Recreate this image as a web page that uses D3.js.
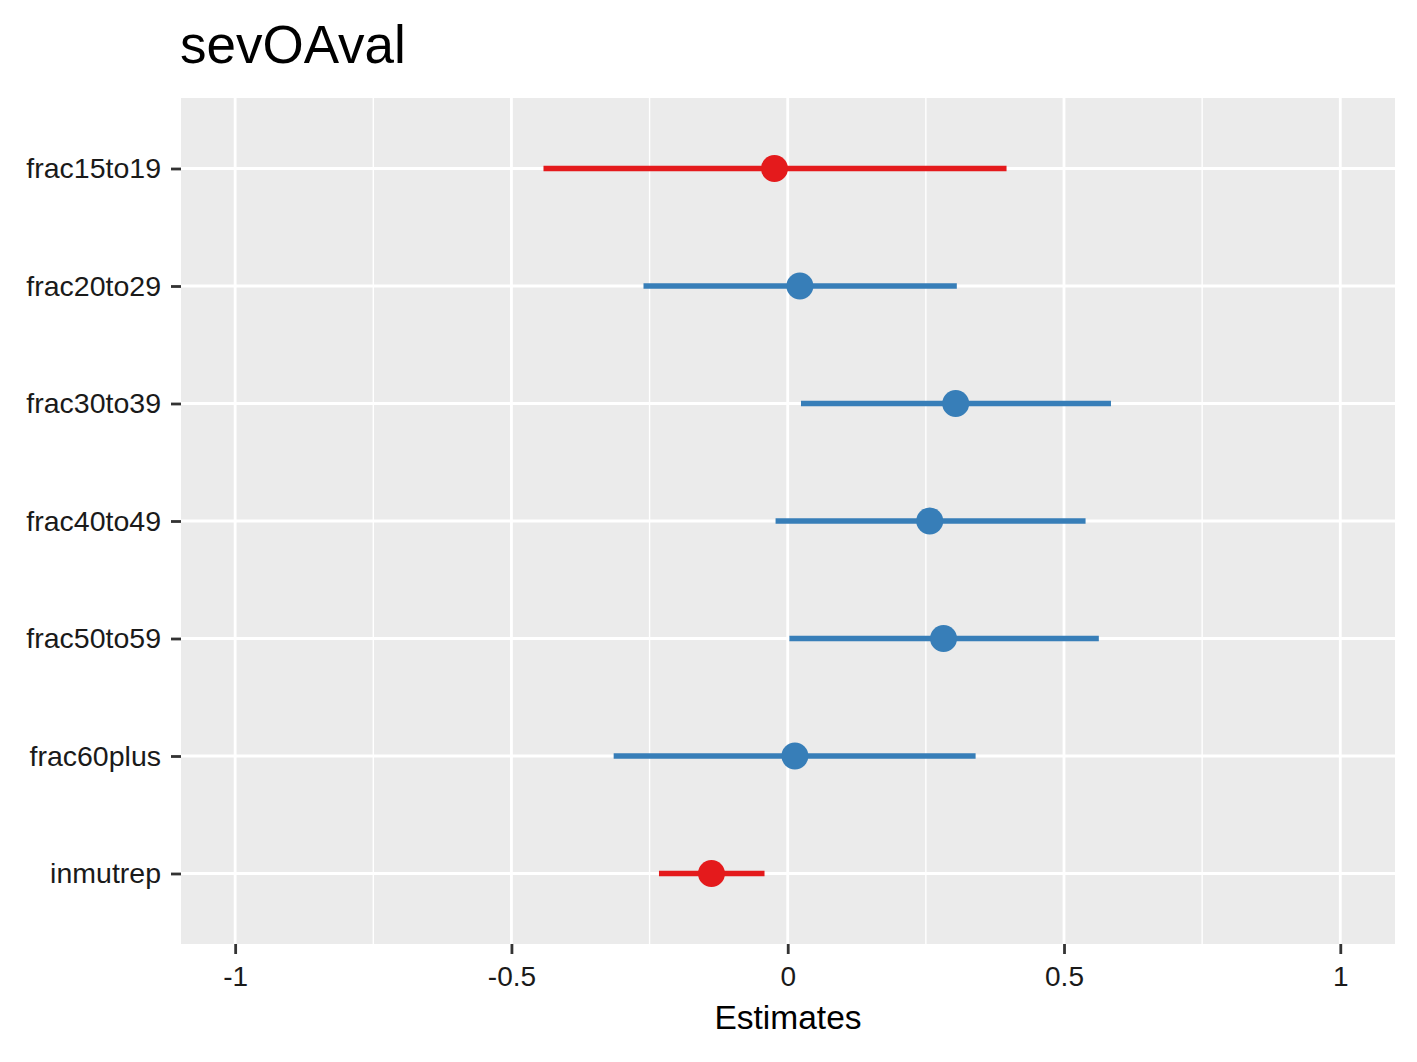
<!DOCTYPE html>
<html>
<head>
<meta charset="utf-8">
<script src="https://cdn.jsdelivr.net/npm/d3@7"></script>
<style>
  body { margin: 0; background: #fff; }
  text { font-family: "Liberation Sans", Arial, sans-serif; }
</style>
</head>
<body>
<div id="chart"></div>
<script>
// terms, top to bottom
var terms = ["frac15to19", "frac20to29", "frac30to39", "frac40to49", "frac50to59", "frac60plus", "inmutrep"];
var estimates = [-0.024, 0.022, 0.304, 0.257, 0.282, 0.013, -0.138];
var ciLow  = [-0.442, -0.261, 0.024, -0.022, 0.003, -0.315, -0.233];
var ciHigh = [0.396, 0.306, 0.585, 0.539, 0.563, 0.340, -0.042];
var xTicks = [-1, -0.5, 0, 0.5, 1];
var xTickLabels = ["-1", "-0.5", "0", "0.5", "1"];
var xMinor = [-0.75, -0.25, 0.25, 0.75];

var width = 1417, height = 1062;
var margin = {top: 98, right: 22, bottom: 118, left: 181};
var w = width - margin.left - margin.right;
var h = height - margin.top - margin.bottom;

var svg = d3.select('#chart').append('svg')
    .attr('width', width)
    .attr('height', height);

svg.append('text')
    .attr('x', 180)
    .attr('y', 63)
    .attr('font-size', 53)
    .attr('fill', '#000')
    .text('sevOAval');

var g = svg.append('g')
    .attr('transform', 'translate(' + margin.left + ',' + margin.top + ')');

var x = d3.scaleLinear().domain([-1.098, 1.099]).range([0, w]);
var y = d3.scalePoint().domain(terms).range([0, h]).padding(0.6);

// panel
g.append('rect')
    .attr('width', w).attr('height', h)
    .attr('fill', '#ebebeb');

// minor grid
g.selectAll('.minor').data(xMinor).enter().append('line')
    .attr('x1', d => x(d)).attr('x2', d => x(d))
    .attr('y1', 0).attr('y2', h)
    .attr('stroke', '#fff').attr('stroke-width', 1.4);

// major grid
g.selectAll('.majx').data(xTicks).enter().append('line')
    .attr('x1', d => x(d)).attr('x2', d => x(d))
    .attr('y1', 0).attr('y2', h)
    .attr('stroke', '#fff').attr('stroke-width', 2.8);
g.selectAll('.majy').data(terms).enter().append('line')
    .attr('x1', 0).attr('x2', w)
    .attr('y1', d => y(d)).attr('y2', d => y(d))
    .attr('stroke', '#fff').attr('stroke-width', 2.8);

var data = terms.map((t, i) => ({term: t, est: estimates[i], lo: ciLow[i], hi: ciHigh[i]}));
function col(d) { return d.est < 0 ? '#e41a1c' : '#377eb8'; }

// error bars
g.selectAll('.ci').data(data).enter().append('line')
    .attr('x1', d => x(d.lo)).attr('x2', d => x(d.hi))
    .attr('y1', d => y(d.term)).attr('y2', d => y(d.term))
    .attr('stroke', col).attr('stroke-width', 5.5);

// points
g.selectAll('.pt').data(data).enter().append('circle')
    .attr('cx', d => x(d.est)).attr('cy', d => y(d.term))
    .attr('r', 13.5)
    .attr('fill', col);

// x axis
var xAxis = g.append('g')
    .attr('transform', 'translate(0,' + h + ')')
    .call(d3.axisBottom(x).tickValues(xTicks).tickFormat((d, i) => xTickLabels[i]).tickSize(10).tickPadding(12));
xAxis.select('.domain').remove();
xAxis.selectAll('line').attr('stroke', '#333').attr('stroke-width', 2.8);
xAxis.selectAll('text').attr('font-size', 28).attr('fill', '#1a1a1a').attr('font-family', '"Liberation Sans", Arial, sans-serif');

// y axis
var yAxis = g.append('g')
    .call(d3.axisLeft(y).tickSize(10).tickPadding(10));
yAxis.select('.domain').remove();
yAxis.selectAll('line').attr('stroke', '#333').attr('stroke-width', 2.8);
yAxis.selectAll('text').attr('font-size', 28.5).attr('fill', '#1a1a1a').attr('font-family', '"Liberation Sans", Arial, sans-serif');

// x title
svg.append('text')
    .attr('x', margin.left + w / 2)
    .attr('y', 1029)
    .attr('text-anchor', 'middle')
    .attr('font-size', 33.5)
    .attr('fill', '#000')
    .text('Estimates');
</script>
</body>
</html>
